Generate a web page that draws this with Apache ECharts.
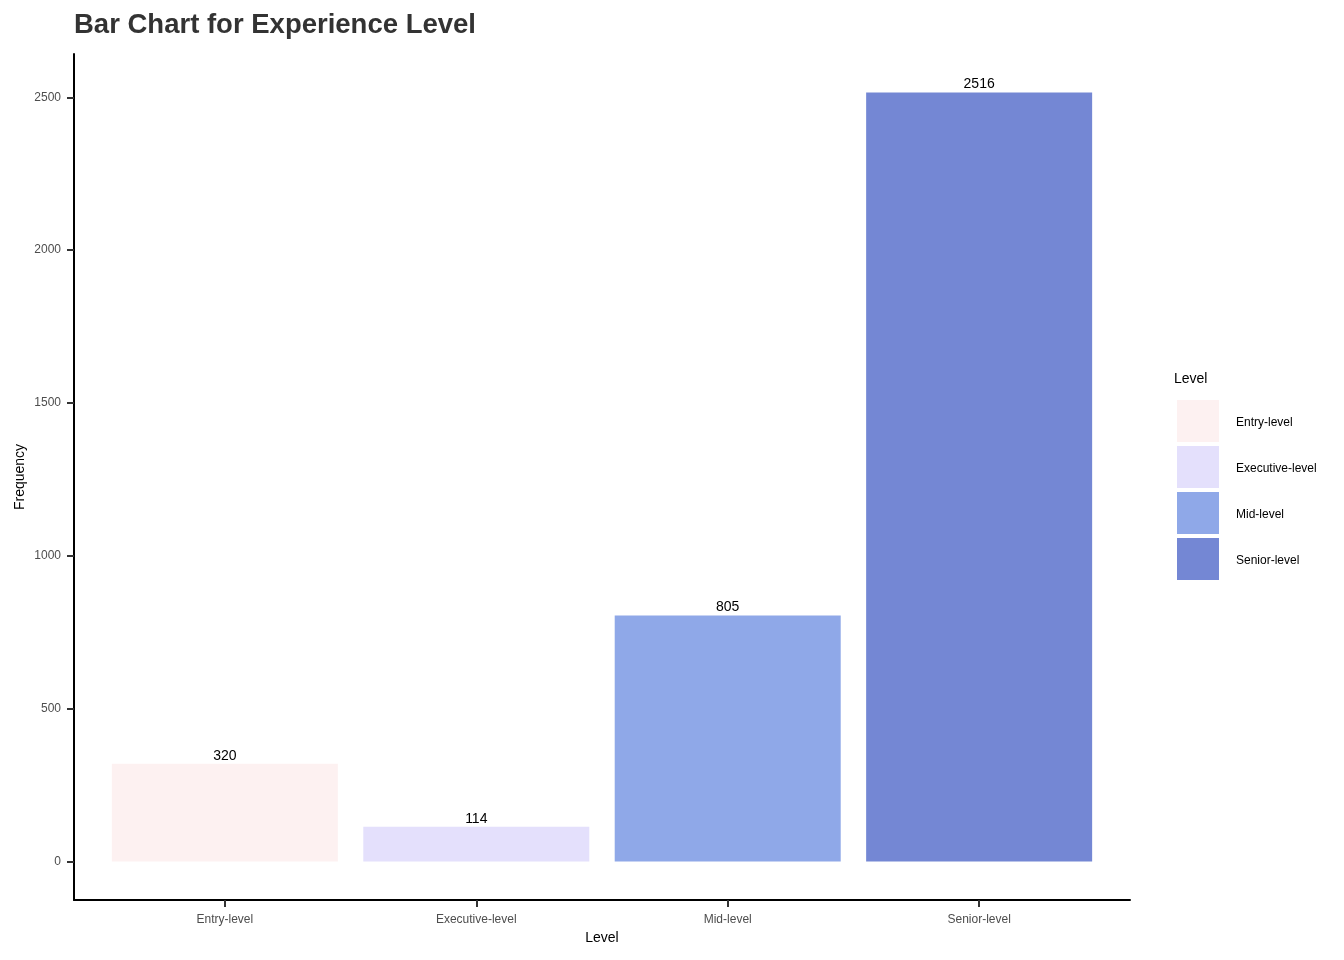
<!DOCTYPE html>
<html>
<head>
<meta charset="utf-8">
<script src="https://cdn.jsdelivr.net/npm/echarts@6/dist/echarts.min.js"></script>
<style>
html,body{margin:0;padding:0;background:#fff;}
#chart{width:1344px;height:960px;}
</style>
</head>
<body>
<div id="chart"></div>
<script>
const categories = ["Entry-level", "Executive-level", "Mid-level", "Senior-level"];
const frequencies = [320, 114, 805, 2516];
const barColors = ["#FDF1F1", "#E4E0FC", "#8FA8E8", "#7487D4"];
const yTicks = [0, 500, 1000, 1500, 2000, 2500];
const xPositions = [1, 2, 3, 4];

const chart = echarts.init(document.getElementById('chart'));
const maxVal = Math.max(...frequencies);
const pad = maxVal * 0.05;

const series = categories.map((c, i) => ({
  name: c,
  type: 'bar',
  barWidth: 226,
  barGap: '-100%',
  data: [[xPositions[i], frequencies[i]]],
  itemStyle: { color: barColors[i] },
  label: {
    show: true, position: 'top', distance: 1,
    color: '#000', fontSize: 14, fontFamily: 'Liberation Sans'
  },
  emphasis: { disabled: true }
}));

chart.setOption({
  animation: false,
  backgroundColor: '#fff',
  textStyle: { fontFamily: 'Liberation Sans' },
  title: [{
    text: 'Bar Chart for Experience Level',
    left: 74, top: 11, padding: 0,
    textStyle: { fontSize: 27.5, fontWeight: 'bold', color: '#333333', fontFamily: 'Liberation Sans' }
  }, {
    text: 'Level',
    left: 1174, top: 372, padding: 0,
    textStyle: { fontSize: 14, fontWeight: 'normal', color: '#000', fontFamily: 'Liberation Sans' }
  }],
  legend: {
    orient: 'vertical',
    left: 1177, top: 400,
    itemWidth: 42, itemHeight: 42, itemGap: 4,
    icon: 'rect',
    padding: 0,
    selectedMode: false,
    formatter: name => '{t|' + name + '}',
    textStyle: {
      fontSize: 12, color: '#000', fontFamily: 'Liberation Sans',
      rich: { t: { fontSize: 12, color: '#000', padding: [4, 0, 0, 12], fontFamily: 'Liberation Sans' } }
    },
    data: categories
  },
  grid: { left: 74, right: 214, top: 54, bottom: 60, containLabel: false },
  xAxis: {
    type: 'value',
    min: 0.4, max: 4.6,
    name: 'Level', nameLocation: 'middle', nameGap: 31, nameMoveOverlap: false,
    nameTextStyle: { fontSize: 14, color: '#000' },
    axisLine: { show: true, onZero: false, lineStyle: { color: '#000', width: 2 } },
    axisTick: { show: true, length: 7, customValues: xPositions, lineStyle: { color: '#333', width: 2 } },
    axisLabel: {
      customValues: xPositions, fontSize: 12, color: '#4D4D4D', margin: 14,
      formatter: v => categories[Math.round(v) - 1] || ''
    },
    splitLine: { show: false }
  },
  yAxis: {
    type: 'value',
    min: -pad, max: maxVal + pad,
    name: 'Frequency', nameLocation: 'middle', nameGap: 47, nameRotate: 90, nameMoveOverlap: false,
    nameTextStyle: { fontSize: 14, color: '#000' },
    axisLine: { show: true, onZero: false, lineStyle: { color: '#000', width: 2 } },
    axisTick: { show: true, length: 7, customValues: yTicks, lineStyle: { color: '#333', width: 2 } },
    axisLabel: { customValues: yTicks, fontSize: 12, color: '#4D4D4D', margin: 13, formatter: v => String(v) },
    splitLine: { show: false }
  },
  series: series
});
</script>
</body>
</html>
